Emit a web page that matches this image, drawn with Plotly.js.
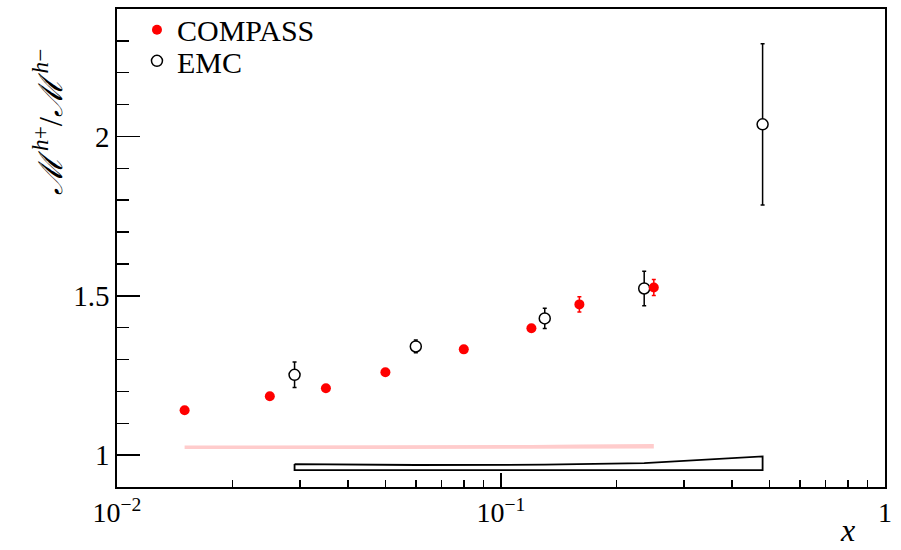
<!DOCTYPE html>
<html>
<head>
<meta charset="utf-8">
<script src="https://cdn.plot.ly/plotly-3.0.1.min.js"></script>
<style>html,body{margin:0;padding:0;background:#fff;}#chart{width:901px;height:550px;}</style>
</head>
<body>
<div id="chart"></div>
<script>
// COMPASS data
var compassX = [0.015, 0.025, 0.035, 0.05, 0.08, 0.12, 0.16, 0.25];
var compassY = [1.141, 1.185, 1.210, 1.260, 1.332, 1.398, 1.473, 1.526];
var compassErr = [0.005, 0.006, 0.006, 0.007, 0.008, 0.010, 0.024, 0.025];
var compassSysLo = [1.019, 1.019, 1.019, 1.019, 1.019, 1.020, 1.020, 1.021];
var compassSysHi = [1.030, 1.030, 1.030, 1.030, 1.031, 1.032, 1.033, 1.035];

// EMC data
var emcX = [0.029, 0.06, 0.13, 0.236, 0.48];
var emcY = [1.252, 1.341, 1.429, 1.523, 2.038];
var emcErr = [0.040, 0.020, 0.032, 0.054, 0.253];
var emcSysLo = [0.953, 0.953, 0.953, 0.953, 0.953];
var emcSysHi = [0.972, 0.969, 0.970, 0.975, 0.996];

var xTickVals = [0.01, 0.1, 1];
var xTickText = ["10<sup>\u22122</sup>", "10<sup>\u22121</sup>", "1"];
var yTickVals = [1, 1.5, 2];
var yTickText = ["1", "1.5", "2"];

function band(xs, lo, hi) {
  return {
    x: xs.concat(xs.slice().reverse()),
    y: hi.concat(lo.slice().reverse())
  };
}
var cb = band(compassX, compassSysLo, compassSysHi);
var eb = band(emcX, emcSysLo, emcSysHi);
eb.x.push(eb.x[0]); eb.y.push(eb.y[0]);

var serif = "Liberation Serif";

var traces = [
  {x: cb.x, y: cb.y, type: 'scatter', mode: 'lines', fill: 'toself',
   fillcolor: '#ffcccc', line: {width: 0, color: '#ffcccc'}, showlegend: false, hoverinfo: 'skip'},
  {x: eb.x, y: eb.y, type: 'scatter', mode: 'lines', fill: 'toself',
   fillcolor: 'rgba(255,255,255,0)', line: {width: 1.8, color: '#000'}, showlegend: false, hoverinfo: 'skip'},
  {x: emcX, y: emcY, type: 'scatter', mode: 'markers', name: 'EMC', legend: 'legend2',
   marker: {symbol: 'circle', size: 11, color: '#fff', line: {color: '#000', width: 1.5}},
   error_y: {type: 'data', array: emcErr, visible: true, color: '#000', thickness: 1.5, width: 2}},
  {x: compassX, y: compassY, type: 'scatter', mode: 'markers', name: 'COMPASS', legend: 'legend',
   marker: {symbol: 'circle', size: 10, color: '#ff0000'},
   error_y: {type: 'data', array: compassErr, visible: true, color: '#ff0000', thickness: 1.5, width: 2}}
];

var layout = {
  width: 901, height: 550,
  margin: {l: 117, r: 16, t: 9, b: 63, autoexpand: false},
  paper_bgcolor: '#fff', plot_bgcolor: '#fff',
  font: {family: serif, color: '#000'},
  showlegend: true,
  legend: {x: 0.026, y: 1.011, xanchor: 'left', yanchor: 'top', bgcolor: 'rgba(0,0,0,0)',
           font: {family: serif, size: 30, color: '#000'}, itemwidth: 30},
  legend2: {x: 0.026, y: 0.946, xanchor: 'left', yanchor: 'top', bgcolor: 'rgba(0,0,0,0)',
           font: {family: serif, size: 30, color: '#000'}, itemwidth: 30},
  xaxis: {type: 'log', range: [-2, 0], showgrid: false, zeroline: false,
          showline: true, linecolor: '#000', linewidth: 1.8, mirror: true,
          ticks: 'inside', ticklen: 14, tickwidth: 1.5, tickcolor: '#000',
          tickvals: xTickVals, ticktext: xTickText,
          tickfont: {family: serif, size: 28, color: '#000'},
          minor: {ticks: 'inside', ticklen: 7, tickwidth: 1.5, tickcolor: '#000', dtick: 'D1', showgrid: false}},
  yaxis: {range: [0.9, 2.4], showgrid: false, zeroline: false,
          showline: true, linecolor: '#000', linewidth: 1.8, mirror: true,
          ticks: 'inside', ticklen: 23, tickwidth: 1.5, tickcolor: '#000',
          tickvals: yTickVals, ticktext: yTickText,
          tickfont: {family: serif, size: 29, color: '#000'},
          minor: {ticks: 'inside', ticklen: 12, tickwidth: 1.5, tickcolor: '#000', dtick: 0.1, tick0: 0, showgrid: false}},
  annotations: [
    {xref: 'paper', yref: 'paper', x: 0.964, y: -0.131, xanchor: 'right', yanchor: 'bottom',
     text: '<i>x</i>', showarrow: false, font: {family: serif, size: 32, color: '#000'}},
    {xref: 'paper', yref: 'paper', x: -0.09, y: 0.764, xanchor: 'center', yanchor: 'middle',
     textangle: -90, text: '<i>\u2133</i><sup> <i>h</i>+</sup>/<i>\u2133</i><sup> <i>h</i>\u2212</sup>',
     showarrow: false, font: {family: serif, size: 33, color: '#000'}}
  ]
};

Plotly.newPlot('chart', traces, layout, {staticPlot: true, displayModeBar: false});
</script>
</body>
</html>
